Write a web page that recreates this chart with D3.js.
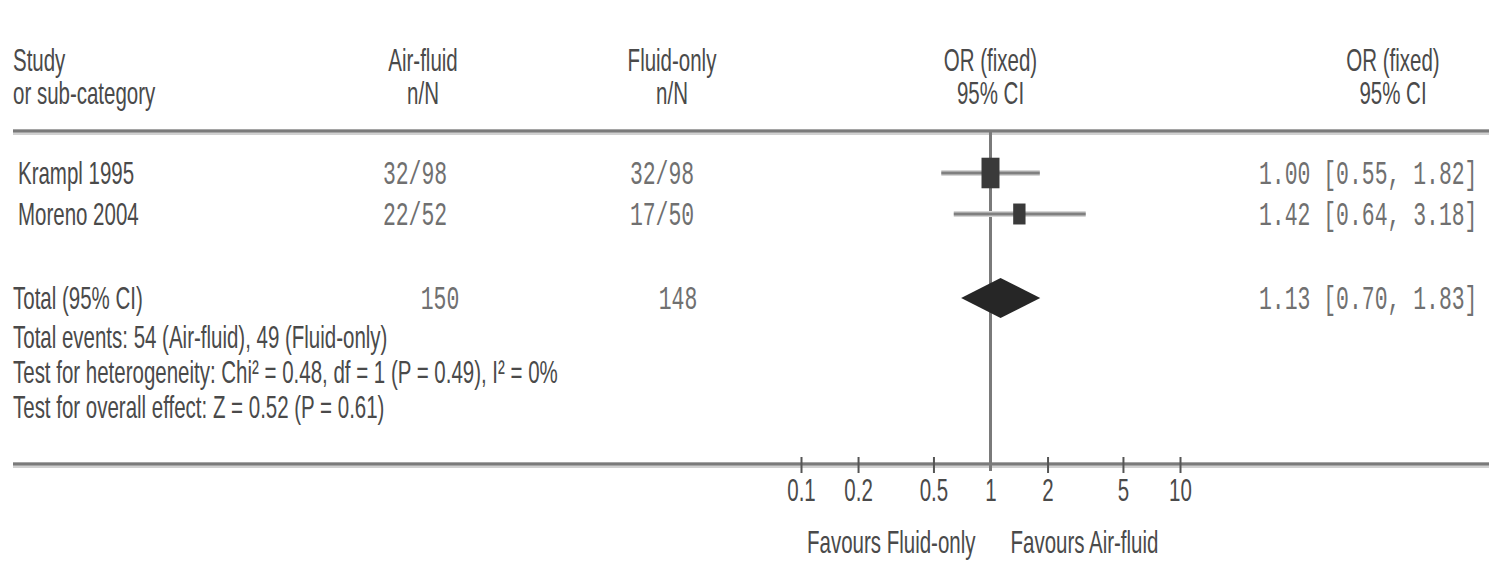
<!DOCTYPE html>
<html>
<head>
<meta charset="utf-8">
<script src="https://cdn.jsdelivr.net/npm/d3@7"></script>
<style>
  body { margin: 0; background: #fff; }
  .sans { font-family: "Liberation Sans", Arial, sans-serif; font-size: 32px; fill: #4a4a4a; }
  .mono { font-family: "Liberation Mono", "Courier New", monospace; font-size: 34px; fill: #707070; }
</style>
</head>
<body>
<svg id="chart" width="1489" height="562"></svg>
<script>
// study rows
const studies = ["Krampl 1995", "Moreno 2004"];
const airFluid = ["32/98", "22/52"];
const fluidOnly = ["32/98", "17/50"];
const oddsRatio = [1.00, 1.42];
const ciLow = [0.55, 0.64];
const ciHigh = [1.82, 3.18];
const weights = [68, 32]; // rough, from square size

// pooled
const totalAir = 150;
const totalFluid = 148;
const pooled = { or: 1.13, lo: 0.70, hi: 1.83 };

const footLines = [
    "Total events: 54 (Air-fluid), 49 (Fluid-only)",
    "Test for heterogeneity: Chi\u00b2 = 0.48, df = 1 (P = 0.49), I\u00b2 = 0%",
    "Test for overall effect: Z = 0.52 (P = 0.61)"
];

const tickValues = [0.1, 0.2, 0.5, 1, 2, 5, 10];

const svg = d3.select("#chart");
const sx = 0.64;   // text in the picture is very narrow
const mx = 0.63;

function label(x, y, s, anchor, cls) {
    let g = svg.append("g").attr("transform", `translate(${x},${y}) scale(${cls === "mono" ? mx : sx},1)`);
    g.append("text").attr("class", cls || "sans").attr("text-anchor", anchor || "start").text(s);
}

let x = d3.scaleLog().domain([0.1, 10]).range([801, 1180]);

let rowY = [173, 214];
let totalY = 298;
let topRule = 131, axisY = 464;

// headers
label(13, 71, "Study");
label(13, 104, "or sub-category");
label(423, 71, "Air-fluid", "middle");
label(423, 104, "n/N", "middle");
label(672, 71, "Fluid-only", "middle");
label(672, 104, "n/N", "middle");
label(x(1), 71, "OR (fixed)", "middle");
label(x(1), 104, "95% CI", "middle");
label(1393, 71, "OR (fixed)", "middle");
label(1393, 104, "95% CI", "middle");

// rules
[topRule, axisY].forEach(y => {
    svg.append("line").attr("x1", 13).attr("x2", 1489).attr("y1", y + 1).attr("y2", y + 1)
        .attr("stroke", "#d0d0d0").attr("stroke-width", 6);
    svg.append("line").attr("x1", 13).attr("x2", 1489).attr("y1", y).attr("y2", y)
        .attr("stroke", "#7a7a7a").attr("stroke-width", 3);
});

// line of no effect
svg.append("line")
    .attr("x1", x(1)).attr("x2", x(1))
    .attr("y1", topRule).attr("y2", axisY + 7)
    .attr("stroke", "#7a7a7a").attr("stroke-width", 3);

// axis ticks
let axis = d3.axisBottom(x).tickValues(tickValues).tickSize(9).tickFormat(d => d);
let ag = svg.append("g").attr("transform", `translate(0,${axisY})`).call(axis);
ag.select(".domain").remove();
ag.selectAll(".tick line").attr("y1", -7).attr("stroke", "#555").attr("stroke-width", 2);
ag.selectAll(".tick text")
    .attr("class", "sans")
    .attr("y", 37).attr("dy", null)
    .attr("transform", `scale(${sx},1)`)
    .style("font-size", "32px");
ag.selectAll(".tick").filter(d => d === 1).select("line").remove();

// study rows
studies.forEach((name, i) => {
    let y = rowY[i];
    label(18, y + 11, name);
    label(415, y + 11, airFluid[i], "middle", "mono");
    label(662, y + 11, fluidOnly[i], "middle", "mono");
    label(1259, y + 11,
        `${oddsRatio[i].toFixed(2)} [${ciLow[i].toFixed(2)}, ${ciHigh[i].toFixed(2)}]`, "start", "mono");

    svg.append("line")
        .attr("x1", x(ciLow[i])).attr("x2", x(ciHigh[i]))
        .attr("y1", y).attr("y2", y)
        .attr("stroke", "#d6d6d6").attr("stroke-width", 6);
    svg.append("line")
        .attr("x1", x(ciLow[i])).attr("x2", x(ciHigh[i]))
        .attr("y1", y).attr("y2", y)
        .attr("stroke", "#808080").attr("stroke-width", 3);

    let w = Math.sqrt(weights[i]) * 2.18;
    let h = w * 1.7;
    svg.append("rect")
        .attr("x", x(oddsRatio[i]) - w / 2).attr("y", y - h / 2)
        .attr("width", w).attr("height", h)
        .attr("fill", "#3a3a3a");
});

// pooled row
label(13, totalY + 11, "Total (95% CI)");
label(440, totalY + 11, totalAir, "middle", "mono");
label(678, totalY + 11, totalFluid, "middle", "mono");
label(1259, totalY + 11,
    `${pooled.or.toFixed(2)} [${pooled.lo.toFixed(2)}, ${pooled.hi.toFixed(2)}]`, "start", "mono");

let dh = 20;
svg.append("path")
    .attr("d", d3.line()([
        [x(pooled.lo), totalY],
        [x(pooled.or), totalY - dh],
        [x(pooled.hi), totalY],
        [x(pooled.or), totalY + dh]
    ]) + "Z")
    .attr("fill", "#262626");

// footnotes
footLines.forEach((s, i) => {
    label(13, 348 + i * 35, s);
});

// favours labels
label(x(1) - 15, 553, "Favours Fluid-only", "end");
label(x(1) + 20, 553, "Favours Air-fluid", "start");
</script>
</body>
</html>
